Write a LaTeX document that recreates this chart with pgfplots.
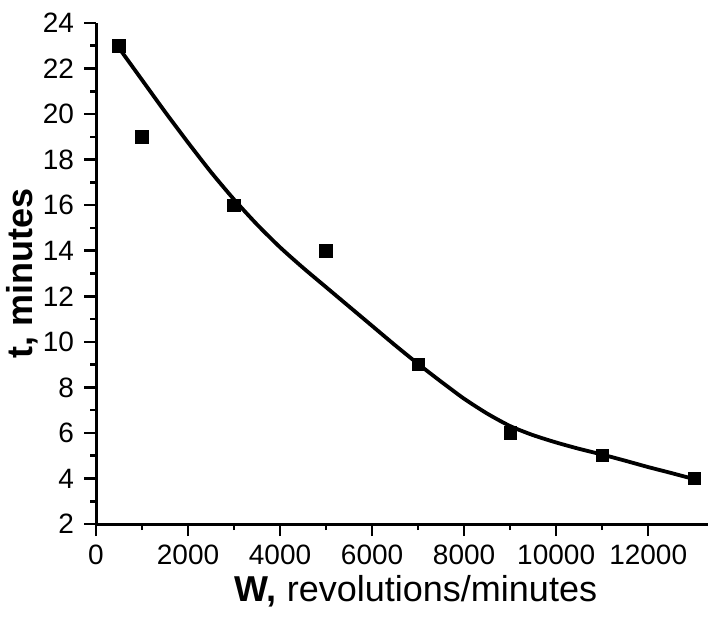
\documentclass[border=0pt]{standalone}
\usepackage{pgfplots}
\pgfplotsset{compat=1.18}
\usepackage{fontspec}
\setmainfont{Liberation Sans}

\begin{document}
\begin{tikzpicture}
\begin{axis}[
    name=ax,
    scale only axis,
    width=306pt, height=250.5pt,
    xmin=0, xmax=13300,
    ymin=2, ymax=24,
    axis x line*=bottom, axis y line*=left,
    axis line style={line width=1.5pt, -},
    tick align=outside,
    major tick length=6pt, minor tick length=3pt,
    tick style={line width=1.3pt, black},
    xtick={0,2000,...,12000},
    ytick={2,4,...,24},
    minor x tick num=1, minor y tick num=1,
    scaled ticks=false,
    /pgf/number format/1000 sep={},
    /pgf/number format/assume math mode=true,
    tick label style={font=\fontsize{14}{14}\selectfont},
    yticklabel style={xshift=-1.5pt},
    xticklabel style={yshift=-1pt},
    xlabel={\textbf{W,} revolutions/minutes},
    label style={font=\fontsize{18}{18}\selectfont},
    xlabel style={at={(axis description cs:0.5,0)}, anchor=north,
                  xshift=7pt, yshift=-22pt},
    clip=false,
]
% fitted curve
\addplot[black, line width=1.9pt, smooth, tension=0.4] coordinates {
    (500,22.9) (1000,21.5) (1500,20.1) (2000,18.75) (2500,17.45) (3000,16.25)
    (3500,15.15) (4000,14.15) (4500,13.25) (5000,12.4) (5500,11.55) (6000,10.7)
    (6500,9.85) (7000,9.03) (7500,8.25) (8000,7.5) (8500,6.85) (9000,6.3)
    (9500,5.9) (10000,5.58) (10500,5.3) (11000,5.05) (11500,4.78) (12000,4.5)
    (12500,4.24) (13000,3.97)
};
\addplot[only marks, mark=square*, mark size=3.1pt, black] coordinates {
    (500,23) (1000,19) (3000,16) (5000,14) (7000,9) (9000,6) (11000,5) (13000,4)
};
\end{axis}
% y label
\node[rotate=90, anchor=center, font=\fontsize{18}{18}\selectfont]
    at ([xshift=-37pt]ax.west) {\textbf{t, minutes}};
\pgfresetboundingbox
\path[use as bounding box] ([shift={(-48pt,-48.5pt)}]ax.south west)
    rectangle ([shift={(1pt,11.5pt)}]ax.north east);
\end{tikzpicture}
\end{document}
